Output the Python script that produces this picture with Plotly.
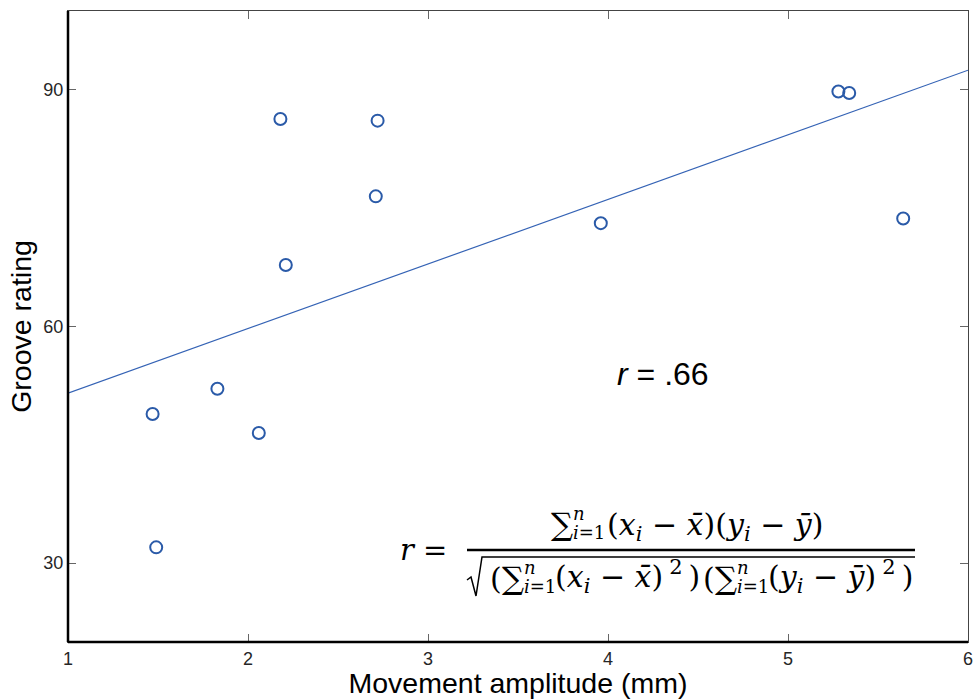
import numpy as np
import plotly.graph_objects as go

# Data
movement_mm = [1.47, 1.49, 1.83, 2.06, 2.18, 2.21, 2.71, 2.72, 3.96, 5.28, 5.34, 5.64]
groove_rating = [48.9, 32.0, 52.1, 46.5, 86.3, 67.8, 76.5, 86.1, 73.1, 89.8, 89.6, 73.7]
x_ticks = [1, 2, 3, 4, 5, 6]
y_ticks = [30, 60, 90]
x_range = [1, 6]
y_range = [20, 100]
r_label = "<i>r</i> = .66"

# least-squares fit line drawn over the full x range
slope, intercept = np.polyfit(movement_mm, groove_rating, 1)
fit_x = np.array(x_range, dtype=float)
fit_y = slope * fit_x + intercept

W, H = 973, 699
L, R, T, B = 68, 5, 11, 57
pw, ph = W - L - R, H - T - B


def px2x(px):
    return x_range[0] + (px - L) / pw * (x_range[1] - x_range[0])


def py2y(py):
    return y_range[1] - (py - T) / ph * (y_range[1] - y_range[0])


blue = "#2a5aa8"
sans = "Liberation Sans, Arial"
fig = go.Figure()
fig.add_trace(go.Scatter(x=fit_x, y=fit_y, mode="lines",
                         line=dict(color="#3563b5", width=1.2), hoverinfo="skip"))
fig.add_trace(go.Scatter(x=movement_mm, y=groove_rating, mode="markers",
                         marker=dict(symbol="circle-open", size=12, color=blue,
                                     line=dict(width=2, color=blue))))

axis_common = dict(showgrid=False, zeroline=False, showline=True, linecolor="#444",
                   linewidth=1.3, mirror="ticks", ticks="inside", ticklen=8,
                   tickcolor="#666", tickwidth=1.3, automargin=False,
                   ticklabeloverflow="allow",
                   tickfont=dict(family=sans, size=18, color="#262626"))

fig.update_layout(
    width=W, height=H, margin=dict(l=L, r=R, t=T, b=B, autoexpand=False),
    paper_bgcolor="white", plot_bgcolor="white", showlegend=False,
    xaxis=dict(range=x_range, tickvals=x_ticks, **axis_common,
               title=dict(text="Movement amplitude (mm)", standoff=1,
                          font=dict(family=sans, size=28.5, color="black"))),
    yaxis=dict(range=y_range, tickvals=y_ticks, **axis_common,
               title=dict(text="Groove rating", standoff=3,
                          font=dict(family=sans, size=28.5, color="black"))),
)

# thicker left and bottom axis lines
fig.add_shape(type="line", xref="paper", yref="paper", x0=0, x1=0, y0=0, y1=1,
              line=dict(color="black", width=2.5))
fig.add_shape(type="line", xref="paper", yref="paper", x0=0, x1=1, y0=0, y1=0,
              line=dict(color="black", width=2.5))

# r value label
fig.add_annotation(x=px2x(663), y=py2y(374), text=r_label, showarrow=False,
                   font=dict(family=sans, size=32, color="black"))

# formula, assembled from pieces
serif = "DejaVu Serif, Liberation Serif"


def txt(px, py, text, size, anchor="left"):
    fig.add_annotation(x=px2x(px), y=py2y(py), text=text, showarrow=False,
                       xanchor=anchor, yanchor="middle",
                       font=dict(family=serif, size=size, color="black"))


def big_sum(px, py):
    txt(px, py, "∑", 31)
    txt(px + 22, py - 11, "<i>n</i>", 18)
    txt(px + 22, py + 8, "<i>i</i>=1", 18)


xs = "<i>x</i><sub><i>i</i></sub>"
ys = "<i>y</i><sub><i>i</i></sub>"
xb = "<i>x̄</i>"
yb = "<i>ȳ</i>"
th = "\u2009"
FS = 30

txt(423, 550, "<i>r</i> =", 29, anchor="center")
# numerator
big_sum(549, 524)
txt(605, 526, f"({xs} − {xb})({ys} − {yb})", FS)
# denominator
txt(488, 578, "(", FS)
big_sum(500, 578)
txt(553, 576, f"({xs} − {xb}){th}<sup>2</sup>{th})", FS)
txt(701, 578, "(", FS)
big_sum(713, 578)
txt(766, 576, f"({ys} − {yb}){th}<sup>2</sup>{th})", FS)

# fraction bar
fig.add_shape(type="line", xref="x", yref="y", x0=px2x(467), x1=px2x(915),
              y0=py2y(550), y1=py2y(550), line=dict(color="black", width=2.5))
# radical sign
pts = [(467, 580), (471, 577), (476, 596), (482, 557), (915, 557)]
path = "M " + " L ".join(f"{px2x(a):.5f},{py2y(b):.5f}" for a, b in pts)
fig.add_shape(type="path", xref="x", yref="y", path=path,
              line=dict(color="black", width=1.5))

fig.write_html("out.html", config={"displayModeBar": False},
               post_script="document.body.style.margin='0';document.body.style.overflow='hidden';")
